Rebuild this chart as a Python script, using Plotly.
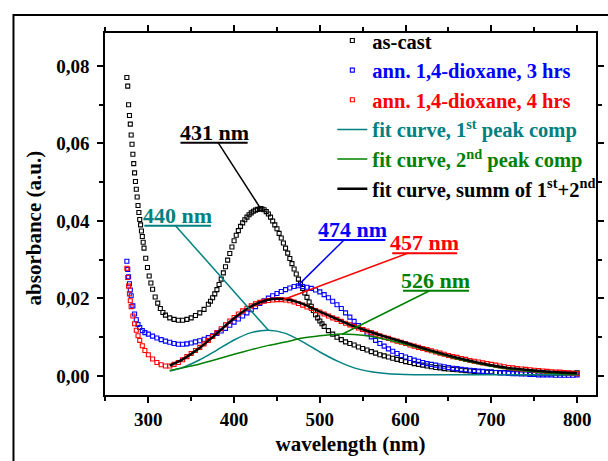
import numpy as np
import plotly.graph_objects as go

# ---------------- measured spectra (open squares) ----------------
wl_cast = (list(range(275, 296)) + [297, 299, 301, 303, 305, 308, 311, 314, 317, 320]
           + [325, 330, 335, 340, 345, 350, 355, 360, 365]
           + [370, 372.5, 375, 377.5, 380, 382.5, 385, 387.5, 390, 392.5, 395, 397.5,
              400, 402.5, 405, 407.5, 410, 412.5, 415, 417.5, 420, 422.5, 425, 427.5,
              430, 431, 432.5, 435, 437.5, 440, 442.5, 445, 447.5, 450, 452.5, 455, 457.5,
              460, 462.5, 465, 467.5, 470, 472.5, 475, 477.5, 480, 482.5, 485, 487.5,
              490, 492.5, 495, 497.5, 500, 502.5]
           + list(range(505, 801, 5)))
abs_cast = [
    0.0770, 0.0748, 0.0700, 0.0672, 0.0650, 0.0622, 0.0598, 0.0572, 0.0548, 0.0524,
    0.0502, 0.0482, 0.0462, 0.0440, 0.0422, 0.0404, 0.0390, 0.0374, 0.0360, 0.0345, 0.0330,
    0.0304, 0.0280, 0.0258, 0.0240, 0.0224, 0.0204, 0.0188, 0.0174, 0.0164, 0.0157,
    0.0150, 0.0146, 0.0144, 0.0144, 0.0146, 0.0150, 0.0156, 0.0163, 0.0172,
    0.0185, 0.0193, 0.0202, 0.0212, 0.0223, 0.0236, 0.0250, 0.0266, 0.0282, 0.0299, 0.0316, 0.0333,
    0.0349, 0.0363, 0.0375, 0.0386, 0.0395, 0.0403, 0.0410, 0.0416, 0.0421, 0.0425, 0.0428, 0.0430,
    0.0431, 0.0432, 0.0431, 0.0429, 0.0424, 0.0418, 0.0410, 0.0400, 0.0390, 0.0380, 0.0368, 0.0356, 0.0343,
    0.0330, 0.0317, 0.0303, 0.0290, 0.0276, 0.0263, 0.0250, 0.0238, 0.0226, 0.0214, 0.0203, 0.0191,
    0.0180, 0.0169, 0.0158, 0.0150, 0.0142, 0.0135,
    0.0128, 0.0117, 0.0108, 0.0100, 0.0094, 0.0088,
    0.0084, 0.0080, 0.0075, 0.0071, 0.0067, 0.0063, 0.0059, 0.0055, 0.0052, 0.0049,
    0.0046, 0.0043, 0.0040, 0.0037, 0.0035, 0.0032, 0.0030, 0.0028, 0.0026, 0.0024,
    0.0022, 0.0021, 0.0019, 0.0018, 0.0017, 0.0016, 0.0015, 0.0014, 0.0013, 0.0012,
    0.0011, 0.0011, 0.0010, 0.0010, 0.0009, 0.0009, 0.0009, 0.0008, 0.0008, 0.0008,
    0.0008, 0.0008, 0.0007, 0.0007, 0.0007, 0.0007, 0.0007, 0.0007, 0.0007, 0.0007,
    0.0007, 0.0007, 0.0007, 0.0008,
]

wl_ann = [275, 276, 277, 278, 279, 280, 282, 284, 286, 288, 290, 293, 296, 300] + list(range(305, 801, 5))
abs_3h = [
    0.0296, 0.0275, 0.0256, 0.0238, 0.0222, 0.0207, 0.0181, 0.0160, 0.0145, 0.0133,
    0.0125, 0.0117, 0.0112, 0.0108,
    0.0103, 0.0098, 0.0094, 0.0090, 0.0087, 0.0084, 0.0082, 0.0082, 0.0083, 0.0085,
    0.0088, 0.0091, 0.0095, 0.0099, 0.0104, 0.0110, 0.0116, 0.0123, 0.0131, 0.0139,
    0.0147, 0.0155, 0.0163, 0.0171, 0.0179, 0.0187, 0.0194, 0.0201, 0.0207, 0.0213,
    0.0218, 0.0223, 0.0227, 0.0231, 0.0233, 0.0231, 0.0229, 0.0226, 0.0222, 0.0217,
    0.0210, 0.0202, 0.0193, 0.0184, 0.0174, 0.0163, 0.0152, 0.0141, 0.0130, 0.0120,
    0.0110, 0.0101, 0.0092, 0.0084, 0.0077, 0.0070, 0.0064, 0.0058, 0.0053, 0.0049,
    0.0045, 0.0041, 0.0038, 0.0035, 0.0032, 0.0030, 0.0028, 0.0026, 0.0024, 0.0022,
    0.0020, 0.0019, 0.0017, 0.0016, 0.0015, 0.0014, 0.0013, 0.0012, 0.0011, 0.0010,
    0.0009, 0.0008, 0.0008, 0.0007, 0.0006, 0.0006, 0.0005, 0.0005, 0.0004, 0.0004,
    0.0003, 0.0003, 0.0003, 0.0003, 0.0002, 0.0002, 0.0002, 0.0002, 0.0002, 0.0003,
]
abs_4h = [
    0.0278, 0.0254, 0.0232, 0.0212, 0.0194, 0.0179, 0.0155, 0.0135, 0.0118, 0.0104,
    0.0092, 0.0078, 0.0066, 0.0055,
    0.0044, 0.0035, 0.0029, 0.0026, 0.0026, 0.0030, 0.0035, 0.0042, 0.0050, 0.0058,
    0.0066, 0.0074, 0.0083, 0.0092, 0.0102, 0.0112, 0.0122, 0.0132, 0.0142, 0.0151,
    0.0160, 0.0168, 0.0175, 0.0181, 0.0186, 0.0190, 0.0193, 0.0195, 0.0196, 0.0197,
    0.0197, 0.0196, 0.0194, 0.0191, 0.0187, 0.0183, 0.0178, 0.0174, 0.0169, 0.0165,
    0.0160, 0.0155, 0.0150, 0.0146, 0.0141, 0.0136, 0.0132, 0.0128, 0.0124, 0.0120,
    0.0116, 0.0112, 0.0108, 0.0104, 0.0100, 0.0097, 0.0093, 0.0090, 0.0087, 0.0084,
    0.0080, 0.0077, 0.0074, 0.0071, 0.0068, 0.0065, 0.0062, 0.0059, 0.0056, 0.0053,
    0.0050, 0.0048, 0.0045, 0.0043, 0.0040, 0.0038, 0.0036, 0.0034, 0.0032, 0.0030,
    0.0028, 0.0026, 0.0024, 0.0022, 0.0021, 0.0019, 0.0018, 0.0017, 0.0016, 0.0015,
    0.0014, 0.0013, 0.0012, 0.0011, 0.0010, 0.0010, 0.0009, 0.0008, 0.0007, 0.0006,
]

# ---------------- two-peak fit (solid lines) ----------------
wl_fit = [325] + list(range(340, 801, 20))
fit_peak1 = [0.0013, 0.0022, 0.0042, 0.0067, 0.0093, 0.0112, 0.0118, 0.0110, 0.0088, 0.0062,
             0.0039, 0.0021, 0.0011, 0.0006, 0.0004, 0.0003, 0.0003, 0.0003, 0.0003, 0.0003,
             0.0003, 0.0003, 0.0003, 0.0003, 0.0003]
fit_peak2 = [0.0014, 0.0021, 0.0031, 0.0043, 0.0056, 0.0068, 0.0079, 0.0088, 0.0098, 0.0104,
             0.0108, 0.0107, 0.0102, 0.0093, 0.0082, 0.0069, 0.0056, 0.0044, 0.0034, 0.0025,
             0.0018, 0.0013, 0.0009, 0.0006, 0.0004]
fit_sum = [0.0027, 0.0043, 0.0073, 0.0110, 0.0149, 0.0180, 0.0197, 0.0198, 0.0186, 0.0166,
           0.0147, 0.0128, 0.0113, 0.0099, 0.0086, 0.0072, 0.0059, 0.0047, 0.0037, 0.0028,
           0.0021, 0.0016, 0.0012, 0.0009, 0.0007]

for a, b in [(wl_cast, abs_cast), (wl_ann, abs_3h), (wl_ann, abs_4h),
             (wl_fit, fit_peak1), (wl_fit, fit_peak2), (wl_fit, fit_sum)]:
    assert len(a) == len(b)

BLACK, BLUE, RED, TEAL, GREEN = "#000000", "#0000FF", "#FF0000", "#008080", "#008000"
FONT = "Liberation Serif, Times New Roman, DejaVu Serif, serif"

fig = go.Figure()


def squares(x, y, color, label):
    fig.add_trace(go.Scatter(
        x=x, y=y, mode="markers", name=f'<span style="color:{color}">{label}</span>',
        marker=dict(symbol="square-open", size=4, color=color, line=dict(width=1.1, color=color)),
    ))


def curve(x, y, color, width, label):
    fig.add_trace(go.Scatter(
        x=x, y=y, mode="lines", name=f'<span style="color:{color}">{label}</span>',
        line=dict(color=color, width=width, shape="spline", smoothing=0.8),
    ))


squares(wl_cast, abs_cast, BLACK, "as-cast")
squares(wl_ann, abs_3h, BLUE, "ann. 1,4-dioxane, 3 hrs")
squares(wl_ann, abs_4h, RED, "ann. 1,4-dioxane, 4 hrs")
curve(wl_fit, fit_peak1, TEAL, 1.5, "fit curve, 1<sup>st</sup> peak comp")
curve(wl_fit, fit_peak2, GREEN, 1.5, "fit curve, 2<sup>nd</sup> peak comp")
curve(wl_fit, fit_sum, BLACK, 2.5, "fit curve, summ of 1<sup>st</sup>+2<sup>nd</sup>")

# ---------------- peak labels with leader lines ----------------
peak_nm = [431, 440, 474, 457, 526]
peak_src = [(wl_cast, abs_cast), (wl_fit, fit_peak1), (wl_ann, abs_3h), (wl_ann, abs_4h), (wl_fit, fit_peak2)]
peak_col = [BLACK, TEAL, BLUE, RED, GREEN]
# label placement: (text centre wavelength, underline absorbance, underline start, underline end, leader start)
label_pos = [
    (376.6, 0.0602, 337.5, 415.8, 381.4),
    (334.2, 0.0388, 295.4, 373.0, 331.7),
    (538.0, 0.0351, 499.5, 576.4, 528.2),
    (622.2, 0.0317, 584.4, 660.1, 602.8),
    (635.4, 0.0220, 597.0, 673.9, 628.0),
]

shapes = []
annotations = []
for nm, (sx, sy), col, (tx, uy, u0, u1, lx) in zip(peak_nm, peak_src, peak_col, label_pos):
    py = float(np.interp(nm, sx, sy))
    annotations.append(dict(x=tx, y=uy, xref="x", yref="y", text=f"{nm} nm", showarrow=False,
                            xanchor="center", yanchor="bottom", yshift=-4,
                            font=dict(family=FONT, size=22, color=col, weight="bold")))
    shapes.append(dict(type="line", xref="x", yref="y", x0=u0, x1=u1, y0=uy, y1=uy,
                       line=dict(color=col, width=2)))
    shapes.append(dict(type="line", xref="x", yref="y", x0=lx, y0=uy, x1=nm, y1=py,
                       line=dict(color=col, width=1.5)))

# outer frame around the whole figure
shapes.append(dict(type="rect", xref="paper", yref="paper", x0=-0.1864, x1=1.2, y0=-0.4, y1=1.0497,
                   line=dict(color=BLACK, width=2), layer="below"))

annotations.append(dict(x=-0.144, y=0.461, xref="paper", yref="paper", text="absorbance (a.u.)",
                        textangle=-90, showarrow=False, xanchor="center", yanchor="middle",
                        font=dict(family=FONT, size=21, color=BLACK, weight="bold")))

axis_common = dict(
    showline=True, linecolor=BLACK, linewidth=1.5, mirror="ticks",
    ticks="outside", ticklen=6, tickwidth=1.5, tickcolor=BLACK,
    showgrid=False, zeroline=False,
    tickfont=dict(family=FONT, size=19, color=BLACK, weight="bold"),
)

fig.update_xaxes(
    range=[249.5, 822], tick0=0, dtick=100, ticklabelstandoff=0,
    minor=dict(dtick=50, ticks="outside", ticklen=4, tickcolor=BLACK, tickwidth=1.5),
    title=dict(text="wavelength (nm)", standoff=8,
               font=dict(family=FONT, size=21, color=BLACK, weight="bold")),
    **axis_common,
)
fig.update_yaxes(
    range=[-0.0049, 0.0885], tick0=0, dtick=0.02, tickformat=".2f", ticklabelstandoff=4,
    minor=dict(dtick=0.01, ticks="outside", ticklen=4, tickcolor=BLACK, tickwidth=1.5),
    **axis_common,
)

fig.update_layout(
    width=608, height=461,
    margin=dict(l=105, r=4, t=33, b=66),
    paper_bgcolor="white", plot_bgcolor="white",
    separators=",.",
    font=dict(family=FONT, color=BLACK),
    showlegend=True,
    legend=dict(x=0.463, y=1.034, xanchor="left", yanchor="top",
                bgcolor="rgba(0,0,0,0)", borderwidth=0, itemsizing="trace",
                font=dict(family=FONT, size=20.5, weight="bold")),
    shapes=shapes,
    annotations=annotations,
)

fig.write_html("out.html")
